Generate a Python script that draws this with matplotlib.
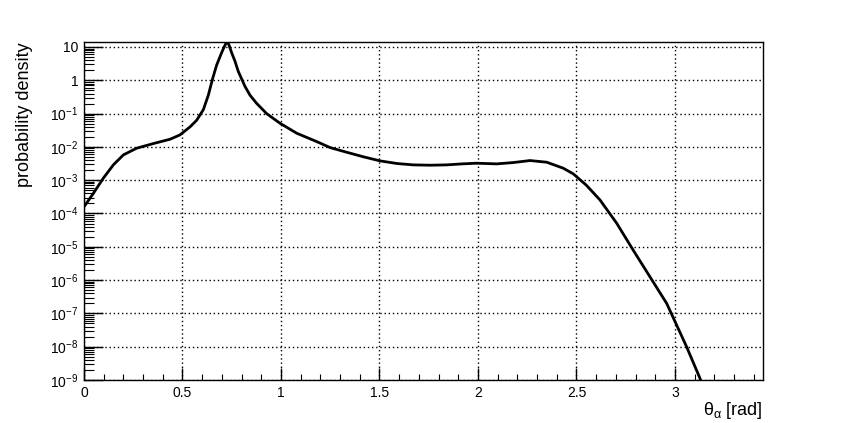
import numpy as np
import matplotlib
matplotlib.use("Agg")
from matplotlib import pyplot as plt
from matplotlib.ticker import LogLocator, MultipleLocator, FixedLocator

plt.rcParams['font.family'] = ['Liberation Sans', 'DejaVu Sans']
plt.rcParams['mathtext.fontset'] = 'custom'
plt.rcParams['mathtext.rm'] = 'Liberation Sans'
plt.rcParams['mathtext.it'] = 'Liberation Sans:italic'

# curve (theta in rad, log10 of density)
theta = [0.0, 0.047, 0.098, 0.149, 0.2, 0.267, 0.352, 0.437, 0.487, 0.538,
         0.572, 0.606, 0.631, 0.653, 0.673, 0.698, 0.713, 0.724, 0.735, 0.75,
         0.766, 0.783, 0.817, 0.843, 0.876, 0.927, 0.995, 1.08, 1.181, 1.249,
         1.333, 1.42, 1.503, 1.59, 1.672, 1.76, 1.841, 1.92, 1.993, 2.095,
         2.18, 2.264, 2.349, 2.433, 2.484, 2.55, 2.619, 2.704, 2.788, 2.873,
         2.958, 3.059, 3.127, 3.1416]
logp = [-3.8, -3.4, -2.94, -2.54, -2.24, -2.04, -1.9, -1.77, -1.64, -1.4,
        -1.2, -0.88, -0.45, 0.05, 0.45, 0.82, 1.02, 1.15, 1.08, 0.82,
        0.58, 0.27, -0.18, -0.45, -0.69, -1.0, -1.29, -1.59, -1.84, -2.02,
        -2.16, -2.3, -2.42, -2.50, -2.54, -2.55, -2.54, -2.51, -2.49, -2.51,
        -2.47, -2.41, -2.46, -2.64, -2.81, -3.15, -3.59, -4.29, -5.10, -5.90,
        -6.70, -8.0, -8.95, -9.2]

ytick_vals = [1e-9, 1e-8, 1e-7, 1e-6, 1e-5, 1e-4, 1e-3, 1e-2, 1e-1, 1, 10]
ytick_labels = [r'$10^{-9}$', r'$10^{-8}$', r'$10^{-7}$', r'$10^{-6}$', r'$10^{-5}$',
                r'$10^{-4}$', r'$10^{-3}$', r'$10^{-2}$', r'$10^{-1}$', '1', '10']
xtick_vals = [0, 0.5, 1, 1.5, 2, 2.5, 3]
xtick_labels = ['0', '0.5', '1', '1.5', '2', '2.5', '3']

dens = 10.0 ** np.array(logp)

fig = plt.figure(figsize=(8.47, 4.23), dpi=100)
ax = fig.add_axes([84/847, 1-380/423, (763-84)/847, (380-42)/423])

ax.plot(theta, dens, color='black', lw=2.0, solid_joinstyle='round',
        solid_capstyle='round', zorder=3)

ax.set_yscale('log')
ax.set_xlim(0, 3.447)
ax.set_ylim(1e-9, 10**1.15)

ax.yaxis.set_major_locator(FixedLocator(ytick_vals))
ax.set_yticklabels(ytick_labels)
ax.yaxis.set_minor_locator(LogLocator(base=10, subs=np.arange(2, 10), numticks=100))
ax.xaxis.set_major_locator(FixedLocator(xtick_vals))
ax.set_xticklabels(xtick_labels)
ax.xaxis.set_minor_locator(MultipleLocator(0.1))

ax.tick_params(axis='y', which='major', direction='in', length=14, width=1, labelsize=10, pad=4)
ax.tick_params(axis='y', which='minor', direction='in', length=7, width=0.8)
ax.tick_params(axis='x', which='major', direction='in', length=9, width=1, labelsize=10, pad=4)
ax.tick_params(axis='x', which='minor', direction='in', length=4.5, width=0.8)
ax.tick_params(left=True, right=False, top=False, bottom=True)

ax.grid(True, which='major', color='black', linestyle=(0, (1, 2)), linewidth=1)

for s in ax.spines.values():
    s.set_linewidth(1)
    s.set_color('black')

ax.set_ylabel('probability density', fontsize=13, labelpad=12, loc='top')
ax.set_xlabel(r'$\mathrm{\theta_{\alpha}}$ [rad]', fontsize=13, loc='right', labelpad=0)

fig.savefig('out.png', dpi=100)
